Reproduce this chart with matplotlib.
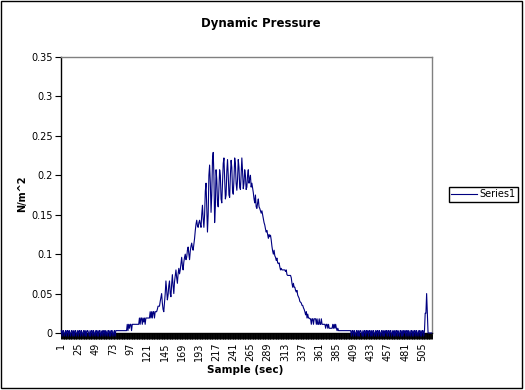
import numpy as np
import matplotlib.pyplot as plt
from matplotlib.patches import Rectangle

# dynamic pressure per sample, in thousandths of N/m^2
quiet_start = [3, -4, 3, 3, -4, 0, 3, -4, 3, 3,
               -4, 3, 0, -4, 3, 3, -4, 3, -4, 3,
               3, -4, 0, 3, -4, 3, 3, -4, 3, 0,
               -4, 3, 3, -4, 3, -4, 3, 3, 0, -4,
               3, -4, 3, 3, -4, 3, 0, -4, 3, 3,
               -4, 3, -4, 3, 3, -4, 0, 3, -4, 3,
               3, -4, 3, 0, -4, 3, 3, -4, 3, -4,
               3, 3, -4, 0, 3, -4, 3, 3, 3, 3]
creep = [3, 3, 3, 3, 3, 3, 3, 3, 3, 3, 3, 3]
climb = [11, 3, 11, 6, 11, 11, 3, 11,
         11, 11, 11, 11, 11, 11, 11, 11, 11,
         19, 11, 19, 19, 11, 19, 14, 19, 11, 19, 19, 19, 19,
         19, 19, 27, 19, 27, 19, 27, 27, 19, 27, 27, 27, 30, 34,
         34, 34, 40, 45, 50, 38, 30, 27, 38]
rise = [50, 66, 55, 42, 48, 60, 66, 50, 46, 62, 74, 60, 50, 65, 72,
        80, 70, 63, 75, 82, 75, 80, 88, 96, 85, 80, 90, 96, 100, 93, 96, 105, 109, 100, 93,
        104, 110, 114, 108, 105, 112, 120, 130, 138, 143, 136, 134, 140, 143, 138, 134, 150, 162, 145, 134]
peak = [150, 180, 190, 160, 128, 150, 200, 213, 190, 153, 175, 220, 229, 200, 140, 160, 207, 195, 165, 160,
        185, 207, 200, 170, 165, 190, 215, 222, 195, 170, 175, 205, 220, 200, 175, 172, 200, 219, 210, 180,
        176, 195, 222, 215, 190, 181, 195, 220, 210, 185, 182, 200, 222, 205, 183, 190, 207, 200, 182, 185]
decline = [200, 207, 190, 196, 200, 185, 190,
           184, 178, 170, 165, 175, 160, 158, 165,
           170, 160, 158, 155, 152, 155, 150, 145,
           140, 137, 132, 128, 130, 125, 120, 125, 122,
           124, 118, 110, 104, 100, 105, 98, 96,
           92, 95, 89, 88, 89, 84, 80, 82, 80, 80, 80, 80,
           80, 78, 80, 74, 73, 73, 73, 73, 73,
           70, 63, 58, 63, 58, 58,
           54, 52, 54, 48, 46, 44, 40, 39,
           38, 35, 35, 32, 30]
tail = [27, 23, 27, 19, 24, 19, 19,
        18, 18, 11, 18, 18, 11, 18, 18, 18, 11, 18, 11, 11, 18, 11, 11, 18, 11, 11,
        11, 11, 11, 6, 11, 11, 6, 11, 6, 6, 6, 6, 6, 11, 6, 11, 6, 11, 6, 3, 6, 3, 3,
        3, 3, 3, 3, 3, 3, 3, 3, 3, 3, 3, 3, 3, 3, 3, 3]
quiet_end = [-4, 3, 3, -4, 3, 0, -4, 3, 3, -4,
             3, -4, 3, 3, 0, -4, 3, -4, 3, 3,
             -4, 3, 0, 3, -4, 3, 3, -4, 3, -4,
             3, 3, -4, 0, 3, -4, 3, 3, -4, 3,
             0, -4, 3, 3, -4, 3, -4, 3, 0, 3,
             -4, 3, 3, -4, 3, 3, -4, 0, 3, -4,
             3, -4, 3, 3, -4, 3, 0, -4, 3, 3,
             -4, 3, -4, 3, 0, 3, -4, 3, 3, -4,
             3, 0, -4, 3, 3, -4, 3, -4, 3, 3,
             -4, 3, 0, -4, 3, 3, -4, 3, -4, 3,
             3, -4, 3]
spike = [25, 25, 50, 25, 0, 0, 0, 0, 0, 0]

x_ticks = [1, 25, 49, 73, 97, 121, 145, 169, 193, 217, 241,
           265, 289, 313, 337, 361, 385, 409, 433, 457, 481, 505]
y_ticks = [0, 0.05, 0.1, 0.15, 0.2, 0.25, 0.3, 0.35]
y_tick_labels = ['0', '0.05', '0.1', '0.15', '0.2', '0.25', '0.3', '0.35']

pressure = np.array(quiet_start + creep + climb + rise + peak + decline + tail
                    + quiet_end + spike) / 1000.0
sample = np.arange(1, len(pressure) + 1)

fig = plt.figure(figsize=(5.25, 3.9), dpi=100)
ax = fig.add_axes([61 / 525, 1 - 333 / 390, 371 / 525, 276 / 390])

line, = ax.plot(sample, pressure, color='#000080', lw=0.8, clip_on=False, zorder=3)

ax.set_xlim(0.5, len(pressure) + 0.5)
ax.set_ylim(0, 0.35)
ax.set_xticks(x_ticks)
ax.set_xticks(sample, minor=True)
ax.set_xticklabels([str(t) for t in x_ticks], rotation=90, fontsize=7)
ax.set_yticks(y_ticks)
ax.set_yticklabels(y_tick_labels, fontsize=7)
ax.tick_params(axis='x', which='both', direction='out', length=4, width=0.7, pad=3)
ax.tick_params(axis='y', direction='out', length=4, width=0.8, pad=2)

for side in ['top', 'right']:
    ax.spines[side].set_color('#808080')
    ax.spines[side].set_linewidth(1)
for side in ['left', 'bottom']:
    ax.spines[side].set_color('black')
    ax.spines[side].set_linewidth(1)

fig.text(261 / 525, 1 - 23 / 390, 'Dynamic Pressure', ha='center', va='center',
         fontsize=8.5, fontweight='bold')
fig.text(22 / 525, 1 - 194 / 390, 'N/m^2', ha='center', va='center', rotation=90,
         fontsize=7, fontweight='bold')
fig.text(245 / 525, 1 - 370 / 390, 'Sample (sec)', ha='center', va='center',
         fontsize=7.5, fontweight='bold')

leg = fig.legend([line], ['Series1'], loc='upper left',
                 bbox_to_anchor=(449 / 525, 1 - 187 / 390), fontsize=7,
                 fancybox=False, framealpha=1, edgecolor='black',
                 borderpad=0.25, handlelength=2.6, handletextpad=0.3,
                 borderaxespad=0)
leg.get_frame().set_linewidth(1)

fig.add_artist(Rectangle((0.001, 0.004), 0.993, 0.994, transform=fig.transFigure,
                         fill=False, edgecolor='black', lw=1))

fig.savefig('out.png', dpi=100)
